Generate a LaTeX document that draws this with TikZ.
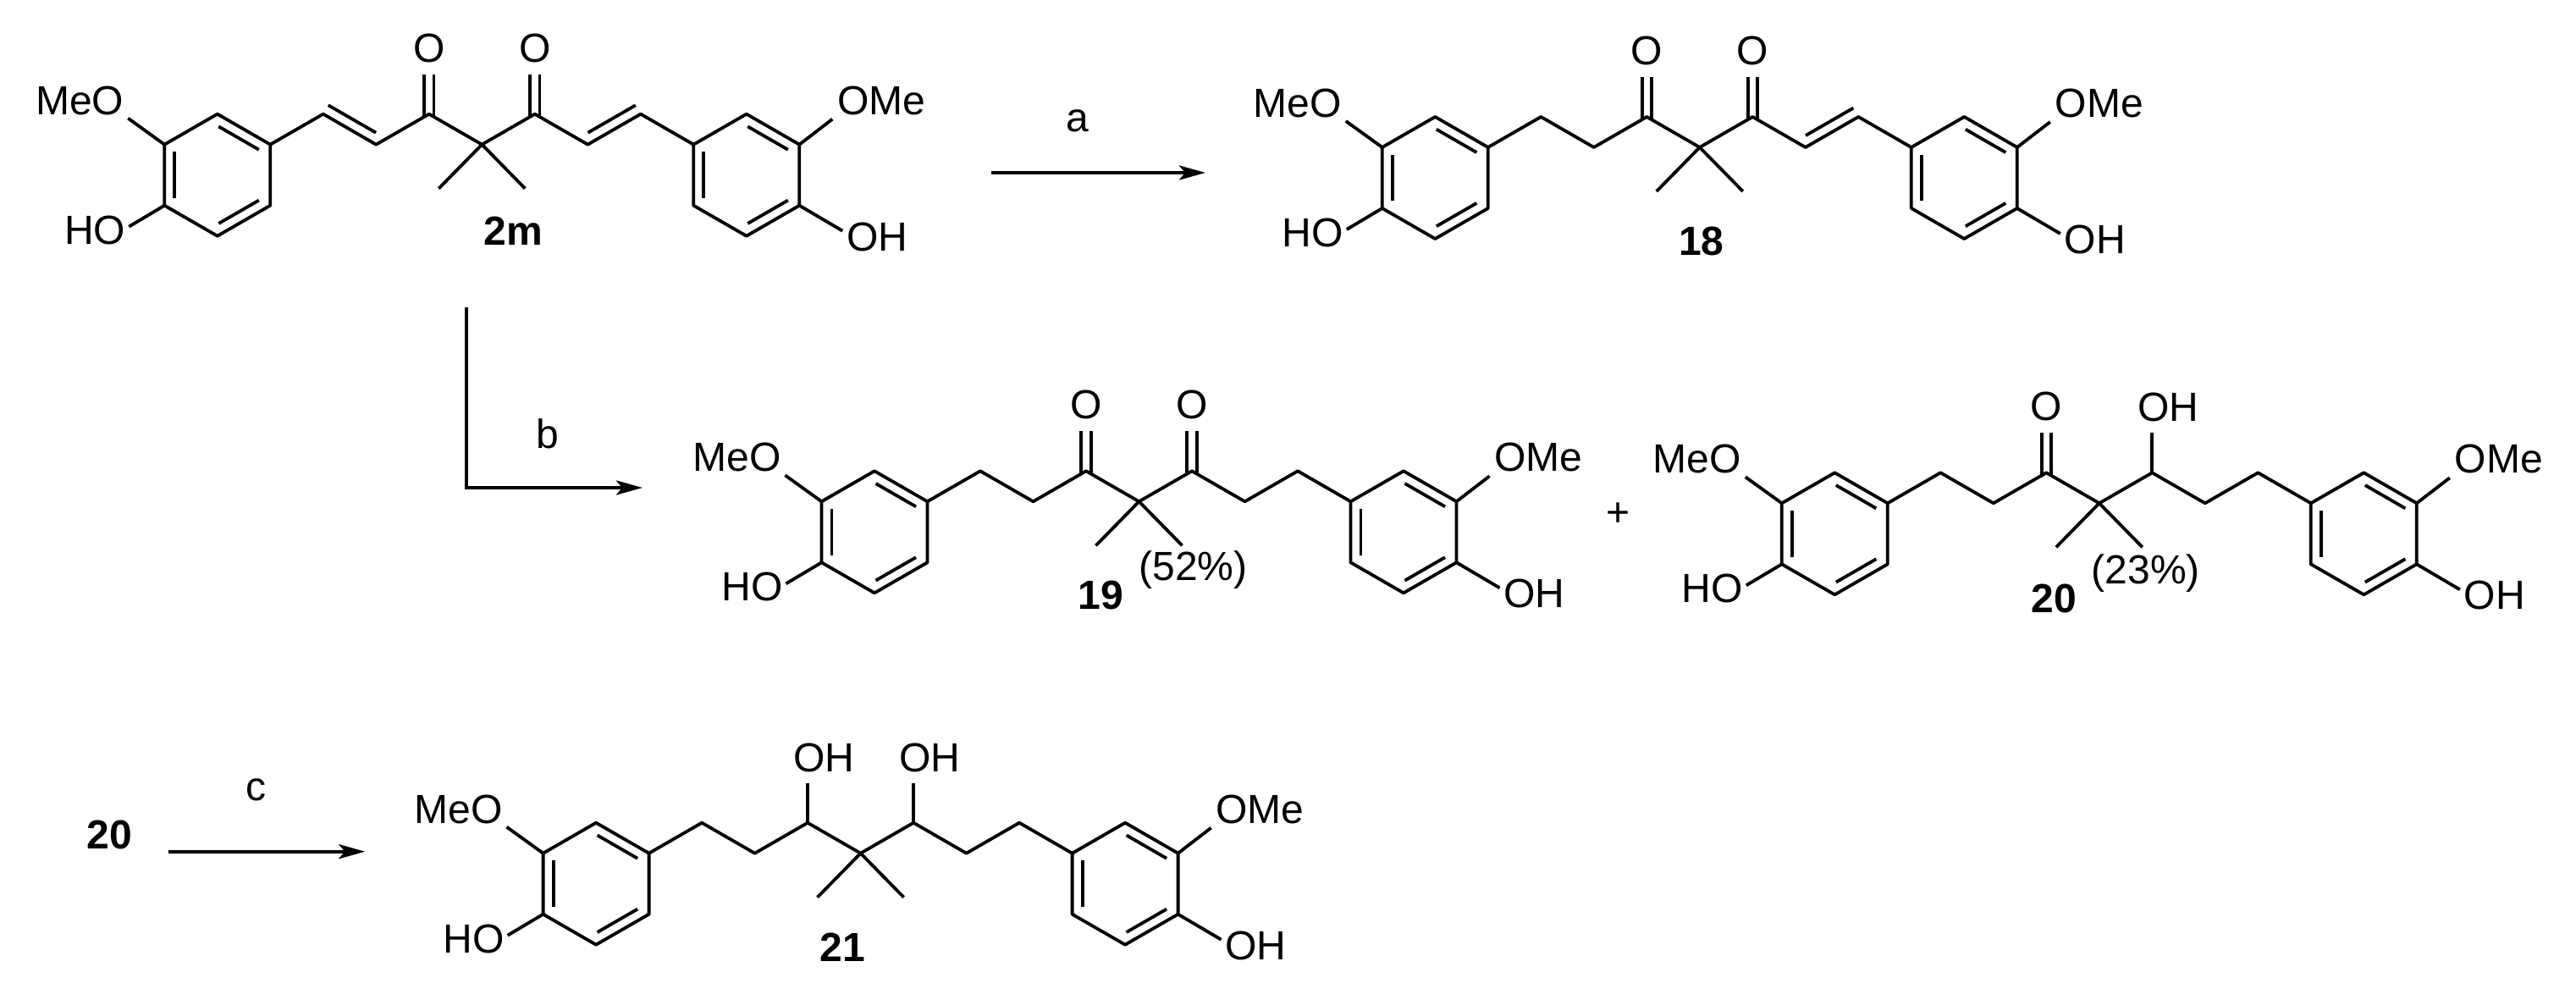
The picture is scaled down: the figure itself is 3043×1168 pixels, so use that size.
\documentclass[tikz,border=0pt]{standalone}
\usepackage{fontspec}
\setmainfont{Liberation Sans}
\usetikzlibrary{calc,arrows.meta}
\newcommand{\innerbond}[4]{\draw[bond] ($(#1)!#3!(#2)!.12cm!90:(#2)$) -- ($(#2)!#4!(#1)!.12cm!-90:(#1)$);}
\newcommand{\ketone}[1]{%
\coordinate (#1top) at ($(#1)+(0,-47)$);
\node[atom] (#1O) at ($(#1)+(0,-78)$) {O};
\draw[bond] ($(#1)+(-5.7,3)$) -- ($(#1top)+(-5.7,0)$);
\draw[bond] ($(#1)+(5.7,3)$) -- ($(#1top)+(5.7,0)$);}
\newcommand{\carbinol}[1]{%
\coordinate (#1top) at ($(#1)+(0,-47)$);
\node[atom] (#1OH) at ($(#1)+(19,-77)$) {OH};
\draw[bond] (#1) -- (#1top);}
\tikzset{
         bond/.style={line width=.038cm,line join=round},
         atom/.style={font=\fontsize{13.66}{16}\selectfont,inner sep=0pt},
         compound/.style={atom,font=\fontsize{13.66}{16}\selectfont\bfseries},
         reaction/.style={line width=.04cm,-{Stealth[length=.31cm,width=.17cm,inset=.07cm]}},
         skeleton/.pic={
          \coordinate (-a) at (0,0); \coordinate (-b) at (62.5,-36); \coordinate (-c) at (125,0);
          \coordinate (-d) at (125,72); \coordinate (-e) at (62.5,108); \coordinate (-f) at (0,72);
          \coordinate (-c3) at (187.5,-36); \coordinate (-c4) at (250,0); \coordinate (-c5) at (312.5,-36);
          \coordinate (-c6) at (375,0); \coordinate (-c7) at (437.5,-36); \coordinate (-c8) at (500,0);
          \coordinate (-c9) at (562.5,-36);
          \coordinate (-g) at (625,0); \coordinate (-h) at (687.5,-36); \coordinate (-i) at (750,0);
          \coordinate (-j) at (750,72); \coordinate (-k) at (687.5,108); \coordinate (-l) at (625,72);
          \coordinate (-me1) at (324,52); \coordinate (-me2) at (426,52); % methyl ends
          \coordinate (-oa) at (-43,-31); \coordinate (-ob) at (-42,97); % left oxygen bonds
          \coordinate (-oc) at (789,-30); \coordinate (-od) at (801,102); % right oxygen bonds
          \node[atom] (-meo) at (-100,-52) {MeO};
          \node[atom] (-ho) at (-82,101) {HO};
          \node[atom] (-ome) at (847,-52) {OMe};
          \node[atom] (-oh) at (842,109) {OH};
          \draw[bond] (-a)--(-b)--(-c)--(-d)--(-e)--(-f)--cycle; % left ring
          \draw[bond] (-g)--(-h)--(-i)--(-j)--(-k)--(-l)--cycle; % right ring
          \draw[bond] (-c)--(-c3)--(-c4)--(-c5)--(-c6)--(-c7)--(-c8)--(-c9)--(-g); % chain
          \draw[bond] (-me1)--(-c6)--(-me2); % methyls
          \draw[bond] (-a)--(-oa) (-f)--(-ob) (-i)--(-oc) (-j)--(-od); % oxygen bonds
          \innerbond{-a}{-f}{.12}{.12} \innerbond{-e}{-d}{.12}{.12} \innerbond{-c}{-b}{.12}{.12}
          \innerbond{-g}{-l}{.12}{.12} \innerbond{-k}{-j}{.12}{.12} \innerbond{-i}{-h}{.12}{.12}
         }
        }
\begin{document}
\begin{tikzpicture}[x=.01cm,y=-.01cm]
\useasboundingbox (0,0) rectangle (3043,1168);
\pic (mA) at (194.3,170.7) {skeleton}; % 2m
\ketone{mA-c5} \ketone{mA-c7}
\innerbond{mA-c3}{mA-c4}{0}{.1} \innerbond{mA-c8}{mA-c9}{.1}{0}
\node[compound] (lA) at (606,272.5) {2m};
\pic (mB) at (1632.8,174) {skeleton}; % 18
\ketone{mB-c5} \ketone{mB-c7}
\innerbond{mB-c8}{mB-c9}{.1}{0}
\node[compound] (lB) at (2009.7,285) {18};
\pic (mC) at (970.5,592.3) {skeleton}; % 19
\ketone{mC-c5} \ketone{mC-c7}
\node[compound] (lC) at (1300.4,703.3) {19};
\node[atom] (yC) at (1409.4,673.3) {(52\%)};
\pic (mD) at (2104.8,594.3) {skeleton}; % 20
\ketone{mD-c5} \carbinol{mD-c7}
\node[compound] (lD) at (2426,706.7) {20};
\node[atom] (yD) at (2534.7,676.7) {(23\%)};
\node[atom] (plus) at (1911,608) {+};
\pic (mE) at (641.6,1007.7) {skeleton}; % 21
\carbinol{mE-c5} \carbinol{mE-c7}
\node[compound] (lE) at (995.4,1119) {21};
\node[compound] (lF) at (129.3,985.7) {20}; % starting material
\coordinate (aS) at (1171,204); \coordinate (aE) at (1424,204); % arrow a
\coordinate (bS) at (551,363); \coordinate (bE) at (759,576); % arrow b
\coordinate (cS) at (198.6,1005.7); \coordinate (cE) at (431.3,1005.7); % arrow c
\draw[reaction] (aS) -- (aE);
\draw[reaction] (bS) |- (bE);
\draw[reaction] (cS) -- (cE);
\node[atom] (ra) at (1272.4,143.3) {a};
\node[atom] (rb) at (647.3,512) {b};
\node[atom] (rc) at (302.8,933.3) {c};
\end{tikzpicture}
\end{document}
